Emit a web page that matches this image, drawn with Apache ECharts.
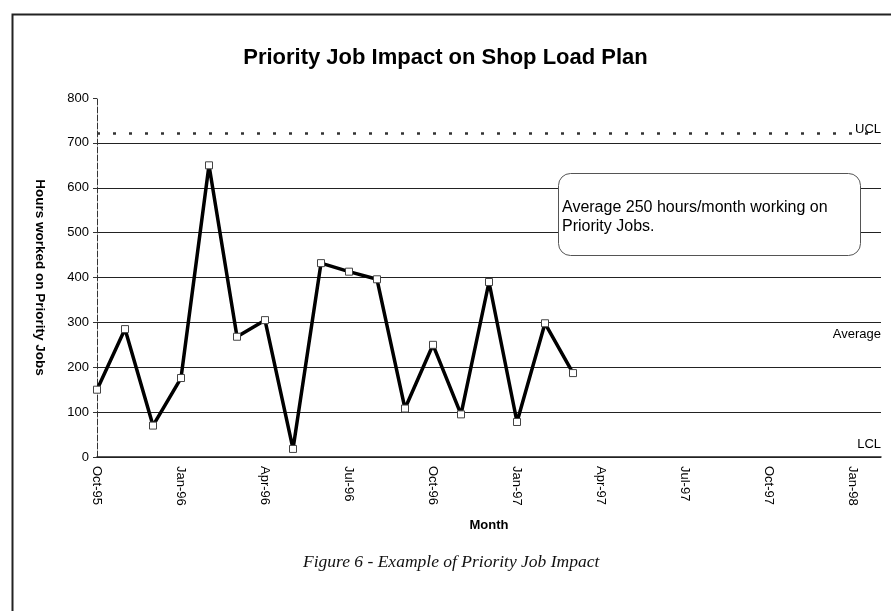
<!DOCTYPE html>
<html>
<head>
<meta charset="utf-8">
<script src="https://cdn.jsdelivr.net/npm/echarts@6/dist/echarts.min.js"></script>
<style>
  html, body { margin: 0; padding: 0; background: #fff; }
  #chart { width: 891px; height: 611px; }
</style>
</head>
<body>
<div id="chart"></div>
<script>
// months on the axis (Oct-95 .. Feb-98), labels shown every 3rd
const months = ['Oct-95','Nov-95','Dec-95','Jan-96','Feb-96','Mar-96','Apr-96','May-96','Jun-96',
  'Jul-96','Aug-96','Sep-96','Oct-96','Nov-96','Dec-96','Jan-97','Feb-97','Mar-97','Apr-97',
  'May-97','Jun-97','Jul-97','Aug-97','Sep-97','Oct-97','Nov-97','Dec-97','Jan-98','Feb-98'];
// hours worked on priority jobs, Oct-95 .. Mar-97
const hours = [150, 285, 70, 176, 650, 268, 305, 18, 432, 413, 396, 108, 250, 95, 390, 78, 298, 187];
// control limits
const ucl = 722;
const average = 250;
const lcl = 0;
const note = ['Average 250 hours/month working on', 'Priority Jobs.'];

const chart = echarts.init(document.getElementById('chart'));
const font = 'Liberation Sans, Arial, sans-serif';

// grid lines at 100..700, none at the top (800)
const gridColors = ['#222','#222','#222','#222','#222','#222','#222','#222','rgba(0,0,0,0)'];

chart.setOption({
  animation: false,
  title: {
    text: 'Priority Job Impact on Shop Load Plan',
    left: 'center',
    top: 42,
    textStyle: { fontFamily: font, fontSize: 22, fontWeight: 'bold', color: '#000' }
  },
  grid: { left: 97, right: 10, top: 98, bottom: 154 },
  xAxis: {
    type: 'category',
    data: months,
    boundaryGap: false,
    name: 'Month',
    nameLocation: 'middle',
    nameGap: 62,
    nameTextStyle: { fontFamily: font, fontSize: 13, fontWeight: 'bold', color: '#000' },
    axisLine: { lineStyle: { color: '#222', width: 1.5 } },
    axisTick: { show: false },
    axisLabel: {
      interval: 2,
      rotate: -90,
      margin: 9,
      fontFamily: font, fontSize: 13, color: '#000'
    },
    splitLine: { show: false }
  },
  yAxis: {
    type: 'value',
    min: 0,
    max: 800,
    interval: 100,
    name: 'Hours worked on Priority Jobs',
    nameLocation: 'middle',
    nameGap: 50,
    nameRotate: -90,
    nameTextStyle: { fontFamily: font, fontSize: 13.5, fontWeight: 'bold', color: '#000' },
    axisLine: { show: true, lineStyle: { color: '#333', width: 1, type: [6, 2] } },
    axisTick: { show: true, length: 4, lineStyle: { color: '#333' } },
    axisLabel: { fontFamily: font, fontSize: 13, color: '#000', margin: 8 },
    splitLine: { show: true, lineStyle: { color: gridColors, width: 1.2 } }
  },
  series: [{
    type: 'line',
    data: hours,
    symbol: 'rect',
    symbolSize: 7,
    lineStyle: { color: '#000', width: 3.5 },
    itemStyle: { color: '#fff', borderColor: '#444', borderWidth: 1 },
    z: 5,
    markLine: {
      silent: true,
      symbol: 'none',
      label: {
        position: 'insideEndTop',
        fontFamily: font, fontSize: 13, color: '#000'
      },
      data: [
        { yAxis: ucl, name: 'UCL',
          lineStyle: { color: '#333', width: 2.5, type: [3, 13] },
          label: { formatter: 'UCL', distance: [0, -3] } },
        { yAxis: average, name: 'Average',
          lineStyle: { color: 'rgba(0,0,0,0)' },
          label: { formatter: 'Average', distance: [0, 4] } },
        { yAxis: lcl, name: 'LCL',
          lineStyle: { color: 'rgba(0,0,0,0)' },
          label: { formatter: 'LCL', distance: [0, 6] } }
      ]
    }
  }],
  graphic: [
    {
      type: 'rect',
      left: 10, top: 12,
      shape: { width: 900, height: 620 },
      style: { fill: 'none', stroke: '#222', lineWidth: 2 },
      silent: true
    },
    {
      type: 'rect',
      left: 558, top: 173,
      shape: { width: 302, height: 82, r: 12 },
      style: { fill: '#fff', stroke: '#555', lineWidth: 1 },
      z: 10
    },
    {
      type: 'text',
      left: 562, top: 198,
      style: {
        text: note.join('\n'),
        font: '16px Liberation Sans, Arial, sans-serif',
        lineHeight: 19,
        fill: '#000'
      },
      z: 11
    },
    {
      type: 'text',
      left: 303, top: 553,
      style: {
        text: 'Figure 6 - Example of Priority Job Impact',
        font: 'italic 17.5px Liberation Serif, Times New Roman, serif',
        fill: '#111'
      }
    }
  ]
});
</script>
</body>
</html>
